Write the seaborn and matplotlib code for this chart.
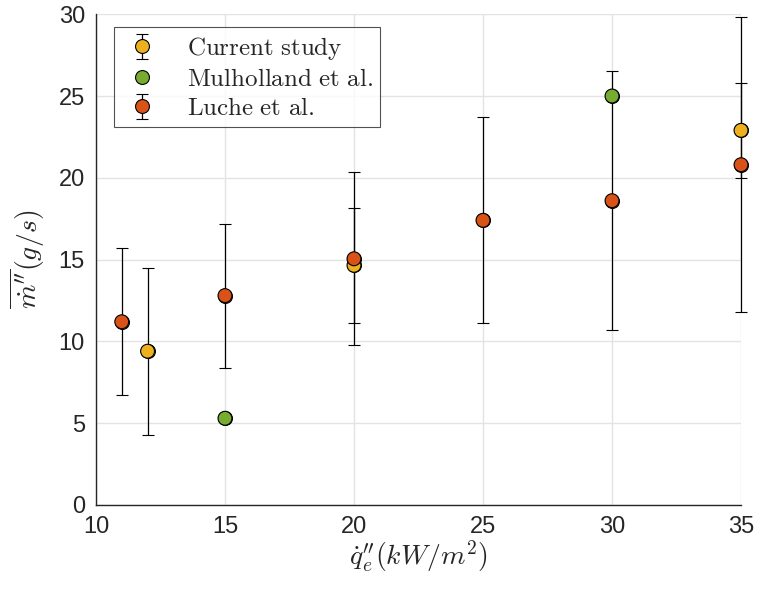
import numpy as np
import pandas as pd
import seaborn as sns
import matplotlib.pyplot as plt

# values
cur_x = [12, 20, 35]
cur_y = [9.4, 14.65, 22.9]
cur_err = [5.1, 3.5, 2.9]

mul_x = [15, 30]
mul_y = [5.3, 25.0]

luc_x = [11, 15, 20, 25, 30, 35]
luc_y = [11.2, 12.8, 15.05, 17.4, 18.6, 20.8]
luc_err = [4.5, 4.4, 5.3, 6.3, 7.9, 9.0]

names = ["Current study", "Mulholland et al.", "Luche et al."]
colors = ["#EDB120", "#77AC30", "#D95319"]

df = pd.DataFrame({
    "q": cur_x + mul_x + luc_x,
    "m": cur_y + mul_y + luc_y,
    "src": [names[0]] * len(cur_x) + [names[1]] * len(mul_x) + [names[2]] * len(luc_x),
})

sns.set_style("white")
plt.rcParams["mathtext.fontset"] = "cm"
plt.rcParams["font.family"] = ["Liberation Sans", "DejaVu Sans"]

fig = plt.figure(figsize=(7.58, 5.92), dpi=100)
ax = fig.add_axes([0.1266, 0.147, 0.851, 0.829])

ax.grid(True, color="#e3e3e3", linewidth=1.0, zorder=0)
ax.set_axisbelow(True)

eb_kw = dict(fmt="o", ms=10, mec="black", mew=0.8, ecolor="black",
             elinewidth=0.9, capsize=4.5, capthick=0.9)
h_cur = ax.errorbar(cur_x, cur_y, yerr=cur_err, mfc=colors[0], zorder=3, **eb_kw)
h_mul = ax.errorbar(mul_x, mul_y, mfc=colors[1], zorder=3, **eb_kw)
h_luc = ax.errorbar(luc_x, luc_y, yerr=luc_err, mfc=colors[2], zorder=3, **eb_kw)
for h in (h_cur, h_mul, h_luc):
    for art in h.get_children():
        art.set_clip_on(False)

sns.scatterplot(data=df, x="q", y="m", hue="src", hue_order=names,
                palette=colors, s=100, edgecolor="black", linewidth=0.8,
                legend=False, zorder=4, ax=ax)
ax.collections[-1].set_clip_on(False)

ax.set_xlim(10, 35)
ax.set_ylim(0, 30)
ax.set_xticks(np.arange(10, 36, 5))
ax.set_yticks(np.arange(0, 31, 5))
ax.tick_params(direction="in", length=5, width=0.9, labelsize=17,
               colors="#262626", pad=8, top=False, right=False)
for s in ["top", "right"]:
    ax.spines[s].set_visible(False)
for s in ["left", "bottom"]:
    ax.spines[s].set_color("#262626")
    ax.spines[s].set_linewidth(1.0)

ax.set_xlabel(r"$\dot{q}^{\prime\prime}_{e}(kW/m^2)$", fontsize=20, labelpad=0)
ax.set_ylabel(r"$\overline{\dot{m}^{\prime\prime}}(g/s)$", fontsize=20, labelpad=8)

leg = ax.legend([h_cur, h_mul, h_luc],
                [r"$\mathrm{Current\ study}$", r"$\mathrm{Mulholland\ et\ al.}$",
                 r"$\mathrm{Luche\ et\ al.}$"],
                loc="upper left", bbox_to_anchor=(0.028, 0.973), fontsize=18,
                frameon=True, fancybox=False, edgecolor="#262626",
                handlelength=1.6, handletextpad=1.0, borderpad=0.3,
                labelspacing=0.2, borderaxespad=0)
leg.get_frame().set_linewidth(0.8)

fig.savefig("out.png", dpi=100)
